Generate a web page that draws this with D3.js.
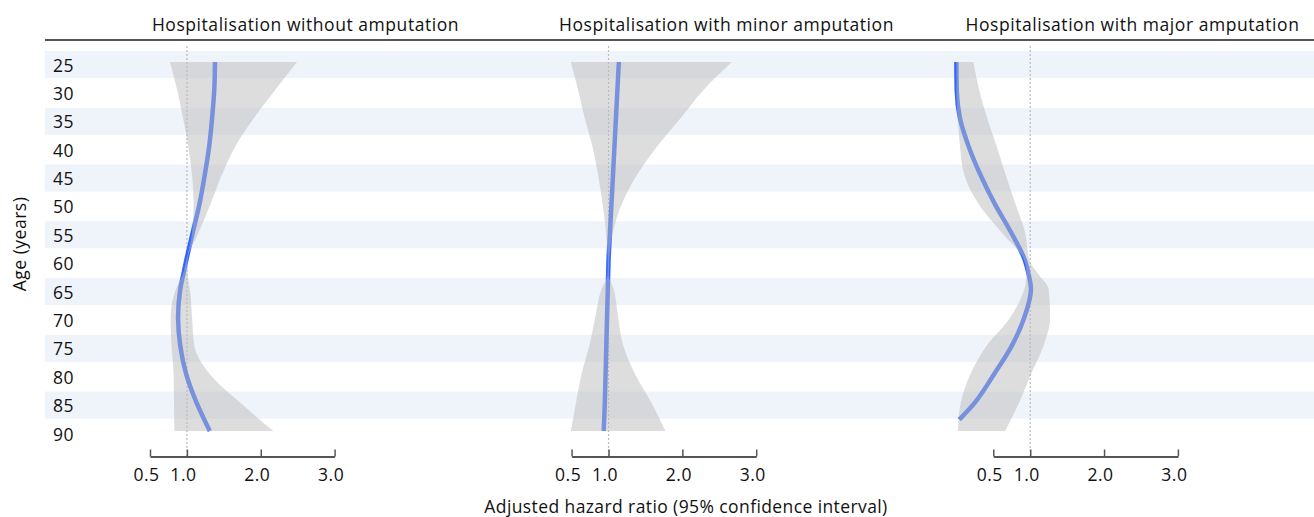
<!DOCTYPE html>
<html>
<head>
<meta charset="utf-8">
<script src="https://cdn.jsdelivr.net/npm/d3@7"></script>
<style>
  html, body { margin: 0; padding: 0; background: #fff; }
  svg { display: block; font-family: "Open Sans", sans-serif; }
</style>
</head>
<body>
<svg id="chart" width="1314" height="517"></svg>
<script>
// ---- data ----
const ages = [25, 30, 35, 40, 45, 50, 55, 60, 62.5, 65, 70, 75, 80, 85, 90];
const rowAges = [25, 30, 35, 40, 45, 50, 55, 60, 65, 70, 75, 80, 85, 90];
const xTicks = [0.5, 1.0, 2.0, 3.0];
const panelTitles = [
  "Hospitalisation without amputation",
  "Hospitalisation with minor amputation",
  "Hospitalisation with major amputation"
];

// Hospitalisation without amputation
const hrWithout = [1.38, 1.37, 1.34, 1.30, 1.24, 1.17, 1.08, 0.99, 0.95, 0.91, 0.88, 0.91, 0.99, 1.13, 1.31];
const loWithout = [0.77, 0.87, 0.95, 1.02, 1.07, 1.09, 1.07, 0.99, 0.94, 0.85, 0.78, 0.79, 0.82, 0.825, 0.83];
const hiWithout = [2.49, 2.19, 1.90, 1.65, 1.47, 1.32, 1.16, 1.01, 1.01, 1.04, 1.07, 1.10, 1.31, 1.72, 2.17];

// Hospitalisation with minor amputation
const hrMinor = [1.14, 1.12, 1.10, 1.08, 1.06, 1.04, 1.02, 1.00, 0.995, 0.99, 0.98, 0.97, 0.96, 0.95, 0.935];
const loMinor = [0.49, 0.59, 0.68, 0.785, 0.86, 0.92, 0.965, 0.99, 0.985, 0.905, 0.82, 0.74, 0.635, 0.56, 0.49];
const hiMinor = [2.67, 2.28, 1.97, 1.65, 1.38, 1.18, 1.06, 1.01, 1.005, 1.07, 1.13, 1.20, 1.36, 1.58, 1.77];

// Hospitalisation with major amputation (estimate line ends at age 88)
const majorLineAges = [25, 30, 35, 40, 45, 50, 55, 60, 62.5, 65, 70, 75, 80, 85, 88];
const hrMajor = [0.0, 0.005, 0.05, 0.17, 0.33, 0.52, 0.74, 0.93, 0.98, 1.01, 0.92, 0.75, 0.51, 0.25, 0.04];
const loMajor = [0.0, 0.0, 0.02, 0.05, 0.11, 0.30, 0.61, 0.92, 0.95, 0.92, 0.73, 0.41, 0.19, 0.06, 0.02];
const hiMajor = [0.23, 0.31, 0.42, 0.55, 0.67, 0.80, 0.93, 0.99, 1.12, 1.25, 1.27, 1.18, 1.01, 0.85, 0.66];

// ---- layout ----
const W = 1314, H = 517;
const svg = d3.select("#chart");
const bandColor = "#eff3fa";
const lineColor = "#3366ff";
const ciColor = "#bbbbbb";
const axisColor = "#555555";
const textColor = "#111111";

const y = d3.scaleLinear().domain([25, 90]).range([62, 431]);
const panelLeft = [150, 571.6, 993.3];
const panelWidth = 184.6;
const titleCenters = [305.5, 726.5, 1132.5];
const axisY = 456.5;

// stripe bands
svg.append("g").selectAll("rect")
  .data(rowAges.filter((a, i) => i % 2 === 0))
  .join("rect")
  .attr("x", 45).attr("width", W - 45)
  .attr("y", d => y(d) - 11).attr("height", 27)
  .attr("fill", bandColor);

// header rule
svg.append("line")
  .attr("x1", 45).attr("x2", W).attr("y1", 40).attr("y2", 40)
  .attr("stroke", "#555").attr("stroke-width", 1.8);

// row labels
svg.append("g").selectAll("text")
  .data(rowAges).join("text")
  .attr("x", 53).attr("y", d => y(d) + 9.5)
  .attr("font-size", 17.5).attr("letter-spacing", 0.6).attr("fill", textColor)
  .text(d => d);

const panels = [
  { title: panelTitles[0], hr: hrWithout, lo: loWithout, hi: hiWithout, lineAges: ages },
  { title: panelTitles[1], hr: hrMinor, lo: loMinor, hi: hiMinor, lineAges: ages },
  { title: panelTitles[2], hr: hrMajor, lo: loMajor, hi: hiMajor, lineAges: majorLineAges }
];

panels.forEach((p, i) => {
  const x = d3.scaleLinear().domain([0.5, 3.0]).range([panelLeft[i], panelLeft[i] + panelWidth]);
  const g = svg.append("g");

  // title
  g.append("text")
    .attr("x", titleCenters[i]).attr("y", 31)
    .attr("text-anchor", "middle")
    .attr("font-size", 17.5).attr("font-weight", 500).attr("letter-spacing", 0.55)
    .attr("fill", textColor)
    .text(p.title);

  // reference line at HR = 1
  g.append("line")
    .attr("x1", x(1)).attr("x2", x(1))
    .attr("y1", 46).attr("y2", axisY)
    .attr("stroke", "#bbbbbb").attr("stroke-width", 1.2)
    .attr("stroke-dasharray", "2,2");

  // estimate line
  const lineData = p.lineAges.map((a, k) => ({ age: a, v: p.hr[k] }));
  g.append("path")
    .datum(lineData)
    .attr("fill", "none")
    .attr("stroke", lineColor)
    .attr("stroke-width", 4.5)
    .attr("d", d3.line().x(d => x(d.v)).y(d => y(d.age)).curve(d3.curveMonotoneY));

  // confidence interval (drawn over the line, semi-transparent)
  const ciData = ages.map((a, k) => ({ age: a, lo: p.lo[k], hi: p.hi[k] }));
  g.append("path")
    .datum(ciData)
    .attr("fill", ciColor)
    .attr("fill-opacity", 0.5)
    .attr("d", d3.area().y(d => y(d.age)).x0(d => x(d.lo)).x1(d => x(d.hi)).curve(d3.curveMonotoneY));

  // x axis
  const axis = d3.axisBottom(x).tickValues(xTicks).tickFormat(d3.format(".1f")).tickSizeInner(-7).tickSizeOuter(0);
  const ag = g.append("g").attr("transform", `translate(0,${axisY})`).call(axis);
  ag.select(".domain").attr("stroke", axisColor).attr("stroke-width", 1.8);
  ag.selectAll(".tick line").attr("stroke", axisColor).attr("stroke-width", 1.5);
  ag.selectAll(".tick text")
    .attr("y", 24.5).attr("dy", 0).attr("dx", -4)
    .attr("font-size", 17.5).attr("letter-spacing", 0.5).attr("fill", textColor)
    .attr("font-family", "Open Sans, sans-serif");
});

// axis titles
svg.append("text")
  .attr("x", 686).attr("y", 513)
  .attr("text-anchor", "middle")
  .attr("font-size", 17.5).attr("letter-spacing", 0.4).attr("fill", textColor)
  .text("Adjusted hazard ratio (95% confidence interval)");

svg.append("text")
  .attr("transform", "translate(26,244) rotate(-90)")
  .attr("text-anchor", "middle")
  .attr("font-size", 17.5).attr("letter-spacing", 0.5).attr("fill", textColor)
  .text("Age (years)");
</script>
</body>
</html>
